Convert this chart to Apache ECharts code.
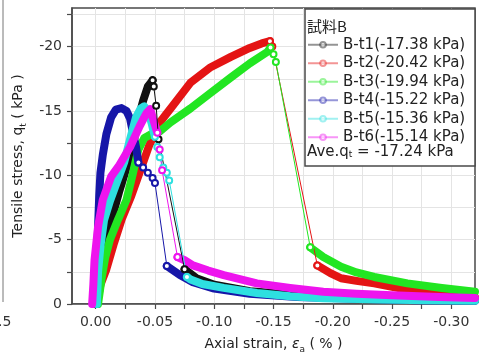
<!DOCTYPE html>
<html>
<head>
<meta charset="utf-8">
<script src="https://cdn.jsdelivr.net/npm/echarts@6/dist/echarts.min.js"></script>
<style>html,body{margin:0;padding:0;background:#fff;}#c{width:479px;height:356px;}</style>
</head>
<body>
<div id="c"></div>
<script>
// ---- tick values / labels ----
var xTickValues = [0, -0.025, -0.05, -0.075, -0.10, -0.125, -0.15, -0.175, -0.20, -0.225, -0.25, -0.275, -0.30];
var xLabelValues = [0, -0.05, -0.10, -0.15, -0.20, -0.25, -0.30];
var yTickValues = [0, -2.5, -5, -7.5, -10, -12.5, -15, -17.5, -20, -22.5];
var yLabelValues = [0, -5, -10, -15, -20];

// ---- series names ----
var names = ['B-t1(-17.38 kPa)','B-t2(-20.42 kPa)','B-t3(-19.94 kPa)','B-t4(-15.22 kPa)','B-t5(-15.36 kPa)','B-t6(-15.14 kPa)'];

// ---- data: [axial strain %, tensile stress kPa] ----
var t1Dense = [[0.000,0],[-0.002,-1.5],[-0.005,-3.2],[-0.009,-5.0],[-0.014,-6.8],[-0.020,-8.8],[-0.026,-10.6],[-0.031,-12.2],[-0.036,-14.4],[-0.040,-15.8],[-0.044,-16.9],[-0.048,-17.38]];
var t1Drop  = [[-0.048,-17.38],[-0.049,-16.9],[-0.051,-15.4],[-0.053,-12.8],[-0.075,-2.7]];
var t1Tail  = [[-0.075,-2.7],[-0.085,-2.0],[-0.10,-1.5],[-0.13,-1.0],[-0.17,-0.7],[-0.22,-0.5],[-0.27,-0.4],[-0.32,-0.3]];

var t2Dense = [[-0.001,0],[-0.004,-1.5],[-0.009,-2.7],[-0.015,-4.6],[-0.022,-6.6],[-0.030,-8.4],[-0.037,-10.2],[-0.045,-12.3],[-0.054,-14.1],[-0.065,-15.4],[-0.080,-17.2],[-0.097,-18.4],[-0.114,-19.2],[-0.130,-19.9],[-0.140,-20.25],[-0.147,-20.42]];
var t2Drop  = [[-0.147,-20.42],[-0.149,-20.0],[-0.187,-3.0]];
var t2Tail  = [[-0.187,-3.0],[-0.198,-2.4],[-0.207,-2.0],[-0.220,-1.8],[-0.235,-1.6],[-0.263,-1.1],[-0.292,-0.75],[-0.32,-0.5]];

var t3Dense = [[-0.002,0],[-0.005,-2.0],[-0.008,-3.6],[-0.012,-5.0],[-0.019,-6.6],[-0.026,-8.1],[-0.031,-10.0],[-0.036,-12.0],[-0.041,-12.9],[-0.047,-13.2],[-0.054,-13.4],[-0.063,-14.1],[-0.080,-15.2],[-0.097,-16.4],[-0.114,-17.6],[-0.130,-18.7],[-0.145,-19.6],[-0.1475,-19.94]];
var t3Drop  = [[-0.1475,-19.94],[-0.150,-19.4],[-0.152,-18.8],[-0.181,-4.4]];
var t3Tail  = [[-0.181,-4.4],[-0.192,-3.65],[-0.207,-2.9],[-0.220,-2.45],[-0.235,-2.1],[-0.263,-1.6],[-0.292,-1.25],[-0.32,-0.95]];

var t4Dense = [[-0.0005,0],[-0.001,-3.0],[-0.002,-6.0],[-0.003,-8.5],[-0.004,-10.2],[-0.006,-11.6],[-0.009,-13.2],[-0.013,-14.5],[-0.017,-15.1],[-0.0218,-15.22],[-0.026,-15.0],[-0.029,-14.4],[-0.031,-13.5],[-0.034,-12.2],[-0.036,-11.0]];
var t4Drop  = [[-0.036,-11.0],[-0.040,-10.6],[-0.044,-10.2],[-0.048,-9.8],[-0.050,-9.4],[-0.060,-2.95]];
var t4Tail  = [[-0.060,-2.95],[-0.071,-2.25],[-0.082,-1.7],[-0.10,-1.2],[-0.13,-0.8],[-0.17,-0.55],[-0.22,-0.4],[-0.27,-0.3],[-0.32,-0.25]];

var t5Dense = [[-0.001,0],[-0.002,-2.5],[-0.004,-4.5],[-0.007,-6.5],[-0.012,-8.0],[-0.018,-9.5],[-0.024,-11.0],[-0.029,-12.8],[-0.034,-14.5],[-0.038,-15.2],[-0.041,-15.36],[-0.044,-15.0],[-0.047,-14.1],[-0.050,-13.0]];
var t5Drop  = [[-0.050,-13.0],[-0.052,-12.2],[-0.054,-11.4],[-0.057,-10.6],[-0.060,-10.2],[-0.062,-9.6],[-0.077,-2.1]];
var t5Tail  = [[-0.077,-2.1],[-0.080,-1.9],[-0.090,-1.55],[-0.108,-1.25],[-0.136,-0.85],[-0.164,-0.6],[-0.192,-0.45],[-0.24,-0.35],[-0.28,-0.3],[-0.32,-0.25]];

var t6Dense = [[0.003,0],[0.002,-1.5],[0.001,-3.4],[-0.002,-6.0],[-0.006,-8.1],[-0.013,-9.9],[-0.020,-10.8],[-0.029,-12.2],[-0.037,-13.8],[-0.043,-14.85],[-0.046,-15.14],[-0.048,-14.5],[-0.052,-13.3]];
var t6Drop  = [[-0.052,-13.3],[-0.054,-12.0],[-0.056,-10.4],[-0.069,-3.65]];
var t6Tail  = [[-0.069,-3.65],[-0.075,-3.4],[-0.082,-3.0],[-0.095,-2.6],[-0.108,-2.25],[-0.136,-1.6],[-0.164,-1.25],[-0.192,-0.95],[-0.22,-0.8],[-0.25,-0.68],[-0.29,-0.55],[-0.32,-0.47]];

var colors = ['#111111','#e41414','#22e622','#1616a8','#2ee0e0','#ee14ee'];

var specimens = [
  [t1Dense,t1Drop,t1Tail],[t2Dense,t2Drop,t2Tail],[t3Dense,t3Drop,t3Tail],
  [t4Dense,t4Drop,t4Tail],[t5Dense,t5Drop,t5Tail],[t6Dense,t6Drop,t6Tail]
];

var FONT = '"DejaVu Sans", "Noto Sans CJK JP", sans-serif';

var series = [];
specimens.forEach(function (sp, i) {
  [sp[0], sp[2]].forEach(function (d, k) {
    series.push({
      type: 'line', name: 'band' + i + '_' + k, data: d, z: 3,
      symbol: 'none', silent: true, animation: false,
      lineStyle: { color: colors[i], width: 8, cap: 'round', join: 'round' },
      itemStyle: { color: colors[i] }
    });
  });
});
specimens.forEach(function (sp, i) {
  series.push({
    type: 'line', name: names[i], data: sp[1], z: 4,
    symbol: 'emptyCircle', symbolSize: 6, showSymbol: true, animation: false,
    lineStyle: { color: colors[i], width: 1 },
    itemStyle: { color: colors[i], borderWidth: 1 }
  });
});

var chart = echarts.init(document.getElementById('c'), null, { renderer: 'canvas' });
chart.setOption({
  animation: false,
  textStyle: { fontFamily: FONT },
  grid: { left: 72, top: 8, width: 403, height: 296, show: true, borderColor: '#4a4a4a', borderWidth: 1.5,
          containLabel: false, outerBoundsMode: 'none' },
  xAxis: {
    type: 'value', inverse: true, min: -0.32, max: 0.02,
    name: 'Axial strain, {i|ε}{s|a} ( % )', nameLocation: 'middle', nameGap: 29,
    nameTextStyle: {
      fontSize: 14, color: '#222', fontFamily: FONT, lineHeight: 20,
      rich: { i: { fontSize: 14, fontStyle: 'italic', color: '#222', lineHeight: 20, fontFamily: FONT },
              s: { fontSize: 9, color: '#222', lineHeight: 9, verticalAlign: 'bottom', fontFamily: FONT } }
    },
    axisLine: { show: true, onZero: false, lineStyle: { color: '#4a4a4a', width: 1.5 } },
    axisTick: { show: true, inside: false, length: 5, customValues: xTickValues, lineStyle: { color: '#4a4a4a', width: 1.2 } },
    axisLabel: { customValues: xLabelValues, fontSize: 14, color: '#333', margin: 11, fontFamily: FONT,
      formatter: function (v) { return Number(v).toFixed(2); } },
    splitLine: { show: true, lineStyle: { color: '#e4e4e4', width: 1 } }
  },
  yAxis: {
    type: 'value', inverse: true, min: -23, max: 0,
    name: 'Tensile stress, q{s|t} ( kPa )', nameLocation: 'middle', nameGap: 40,
    nameTextStyle: {
      fontSize: 14, color: '#222', fontFamily: FONT, lineHeight: 20,
      rich: { s: { fontSize: 9, color: '#222', lineHeight: 9, verticalAlign: 'bottom', fontFamily: FONT } }
    },
    axisLine: { show: true, onZero: false, lineStyle: { color: '#4a4a4a', width: 1.5 } },
    axisTick: { show: true, inside: false, length: 5, customValues: yTickValues, lineStyle: { color: '#4a4a4a', width: 1.2 } },
    axisLabel: { customValues: yLabelValues, fontSize: 14, color: '#333', margin: 10, fontFamily: FONT,
      formatter: function (v) { return String(v); } },
    splitLine: { show: true, lineStyle: { color: '#e4e4e4', width: 1 } }
  },
  legend: {
    left: 307, top: 36, orient: 'vertical', itemWidth: 30, itemHeight: 7, itemGap: 1, padding: 0,
    selectedMode: false,
    textStyle: { fontSize: 15, lineHeight: 17.5, color: '#222', fontFamily: FONT },
    data: names.map(function (n) { return { name: n, itemStyle: { opacity: 0.45 }, lineStyle: { opacity: 0.45 } }; })
  },
  graphic: [
    { type: 'rect', z: 3, shape: { x: 305, y: 9, width: 170, height: 157 },
      style: { fill: '#fff', stroke: '#4a4a4a', lineWidth: 1.5 } },
    { type: 'text', z: 5, x: 307, y: 26,
      style: { text: '試料B', fill: '#222', font: '15px "Noto Sans CJK JP", sans-serif', verticalAlign: 'middle' } },
    { type: 'text', z: 5, x: 307, y: 152,
      style: { text: 'Ave.q{s|t} = -17.24 kPa', fontSize: 15, fontFamily: FONT, fill: '#222', verticalAlign: 'middle',
        rich: { s: { fontSize: 9, fill: '#222', lineHeight: 9, verticalAlign: 'bottom', fontFamily: FONT } } } },
    { type: 'line', z: 1, shape: { x1: 3, y1: 0, x2: 3, y2: 302 }, style: { stroke: '#777', lineWidth: 1 } },
    { type: 'text', z: 1, x: -2, y: 322,
      style: { text: '.5', fontSize: 14, fontFamily: FONT, fill: '#333', verticalAlign: 'middle' } }
  ],
  series: series
});
</script>
</body>
</html>
